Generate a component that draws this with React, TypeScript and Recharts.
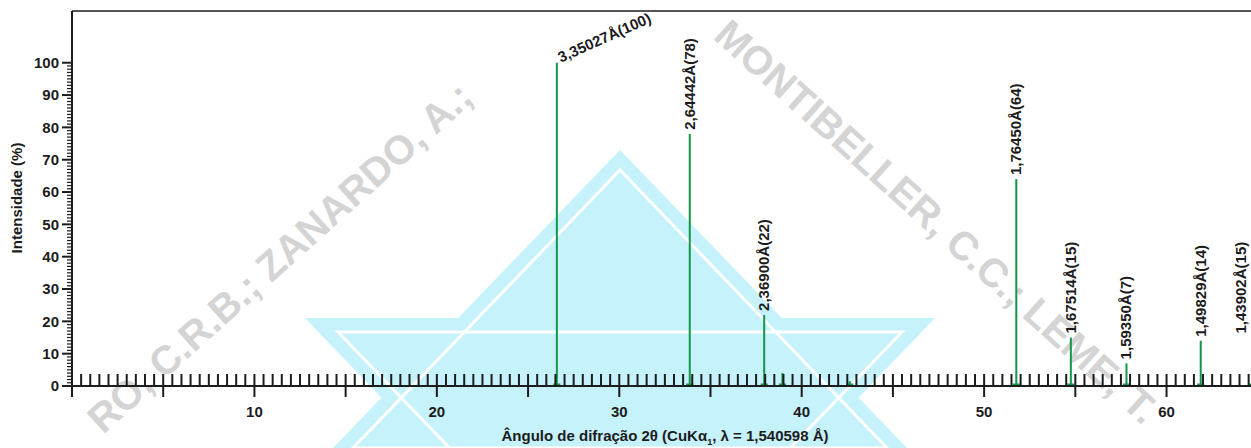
import { ComposedChart, Bar, XAxis, YAxis, ReferenceLine, LabelList } from 'recharts'

const TWO_THETA = [26.585, 33.87, 37.95, 38.95, 42.64, 51.77, 54.76, 57.81, 61.88, 64.73]
const INTENSITY = [100, 78, 22, 4, 1.5, 64, 15, 7, 14, 15]
const PEAK_LABELS = [
  '3,35027Å(100)',
  '2,64442Å(78)',
  '2,36900Å(22)',
  '',
  '',
  '1,76450Å(64)',
  '1,67514Å(15)',
  '1,59350Å(7)',
  '1,49829Å(14)',
  '1,43902Å(15)',
]

const X_TICKS = Array.from({ length: 133 }, (_, i) => i * 0.5)
const Y_TICKS = Array.from({ length: 101 }, (_, i) => i)

const DATA = TWO_THETA.map((t, i) => ({ theta: t, intensity: INTENSITY[i], label: PEAK_LABELS[i] }))

const FONT = '"Liberation Sans", Arial, Helvetica, sans-serif'
const INK = '#1c1c1c'
const GREEN = '#12964a'
const CYAN = '#c6f2fb'

function XTick(props: any) {
  const { x, y, payload } = props
  const v = payload.value
  const major = Math.abs(v % 5) < 1e-6
  const labelled = Math.abs(v % 10) < 1e-6 && v > 0
  return (
    <g>
      <line x1={x} x2={x} y1={y - 12} y2={major ? y + 11 : y} stroke={INK} strokeWidth={2} />
      {labelled && (
        <text x={x} y={y + 31} textAnchor="middle" fontFamily={FONT} fontWeight="bold" fontSize={15} fill={INK}>
          {v}
        </text>
      )}
    </g>
  )
}

function YTick(props: any) {
  const { x, y, payload } = props
  const v = payload.value
  const major = v % 10 === 0
  return (
    <g>
      <line x1={x - (major ? 10 : 5)} x2={x} y1={y} y2={y} stroke={INK} strokeWidth={major ? 2 : 1.2} />
      {major && (
        <text x={x - 13} y={y} dy="0.36em" textAnchor="end" fontFamily={FONT} fontWeight="bold" fontSize={15} fill={INK}>
          {v}
        </text>
      )}
    </g>
  )
}

function Stick(props: any) {
  const { x, y, width, height } = props
  const cx = x + width / 2
  const base = y + height
  return (
    <g>
      <line x1={cx} x2={cx} y1={y} y2={base} stroke={GREEN} strokeWidth={2} />
      <rect x={cx - 3.5} y={base - 2.5} width={7} height={2.5} fill={GREEN} />
    </g>
  )
}

function PeakLabel(props: any) {
  const { x, y, width, value, index } = props
  if (!value) return null
  const cx = x + width / 2
  if (index === 0) {
    return (
      <text
        x={cx + 4}
        y={y}
        transform={`rotate(-24, ${cx + 4}, ${y})`}
        fontFamily={FONT}
        fontWeight="bold"
        fontSize={15}
        fill={INK}
      >
        {value}
      </text>
    )
  }
  // keep the last label inside the visible frame
  const tx = Math.min(cx, 1241) + 5
  const ty = y - 4
  return (
    <text
      x={tx}
      y={ty}
      transform={`rotate(-90, ${tx}, ${ty})`}
      fontFamily={FONT}
      fontWeight="bold"
      fontSize={15}
      fill={INK}
    >
      {value}
    </text>
  )
}

function Backdrop() {
  return (
    <svg width={1251} height={448} style={{ position: 'absolute', left: 0, top: 0 }}>
      {/* logo */}
      <polygon points="620,150 907,448 333,448" fill={CYAN} />
      <polygon points="305,318 935,318 620,646" fill={CYAN} />
      <polygon points="620,170 887,448 353,448" fill="none" stroke="#ffffff" strokeWidth={3} />
      <polygon points="338,332 902,332 620,625" fill="none" stroke="#ffffff" strokeWidth={3} />
      {/* watermark */}
      <text
        x={712}
        y={38}
        transform="rotate(42, 712, 38)"
        fontFamily={FONT}
        fontWeight="bold"
        fontSize={40}
        fill="#d4d4d4"
      >
        MONTIBELLER, C.C.; LEME, T.
      </text>
      <text
        x={475}
        y={100}
        transform="rotate(-42, 475, 100)"
        textAnchor="end"
        fontFamily={FONT}
        fontWeight="bold"
        fontSize={40}
        fill="#d4d4d4"
      >
        RO, C.R.B.; ZANARDO, A.;
      </text>
      {/* axis titles */}
      <text
        x={22}
        y={198}
        transform="rotate(-90, 22, 198)"
        textAnchor="middle"
        fontFamily={FONT}
        fontWeight="bold"
        fontSize={15}
        fill={INK}
      >
        Intensidade (%)
      </text>
      <text x={665} y={441} textAnchor="middle" fontFamily={FONT} fontWeight="bold" fontSize={15} fill={INK}>
        Ângulo de difração 2θ (CuKα<tspan fontSize={9} dy={4}>1</tspan>
        <tspan dy={-4}>, λ = 1,540598 Å)</tspan>
      </text>
    </svg>
  )
}

export default function App() {
  return (
    <div
      style={{
        position: 'absolute',
        left: 0,
        top: 0,
        width: 1251,
        height: 448,
        overflow: 'hidden',
        background: '#ffffff',
        fontFamily: FONT,
      }}
    >
      <Backdrop />
      <div style={{ position: 'absolute', left: 0, top: 0 }}>
        <ComposedChart width={1280} height={448} data={DATA} margin={{ top: 11, right: 4, left: 0, bottom: 0 }}>
          <XAxis
            type="number"
            dataKey="theta"
            domain={[0, 66]}
            ticks={X_TICKS}
            interval={0}
            tickLine={false}
            tickSize={0}
            tickMargin={0}
            tick={<XTick />}
            axisLine={{ stroke: INK, strokeWidth: 2 }}
            height={62}
            allowDataOverflow
          />
          <YAxis
            type="number"
            domain={[0, 116]}
            ticks={Y_TICKS}
            interval={0}
            tickLine={false}
            tickSize={0}
            tickMargin={0}
            tick={<YTick />}
            axisLine={{ stroke: INK, strokeWidth: 2 }}
            width={72}
            allowDataOverflow
          />
          <ReferenceLine y={116} stroke={INK} strokeWidth={1.6} />
          <Bar dataKey="intensity" barSize={2} shape={<Stick />} isAnimationActive={false}>
            <LabelList dataKey="label" content={<PeakLabel />} />
          </Bar>
        </ComposedChart>
      </div>
    </div>
  )
}
